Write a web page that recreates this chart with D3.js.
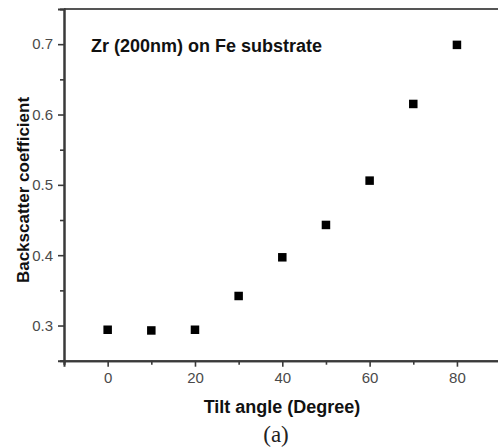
<!DOCTYPE html>
<html>
<head>
<meta charset="utf-8">
<script src="https://cdn.jsdelivr.net/npm/d3@7/dist/d3.min.js"></script>
<style>
  html, body { margin: 0; padding: 0; background: #fff; }
  svg { display: block; }
</style>
</head>
<body>
<svg id="chart" width="498" height="448"></svg>
<script>
// Backscatter coefficient versus tilt angle for Zr (200 nm) on Fe
const tiltAngles = [0, 10, 20, 30, 40, 50, 60, 70, 80];
const backscatter = [0.294, 0.293, 0.294, 0.342, 0.397, 0.443, 0.506, 0.615, 0.699];
const xMajorTicks = [0, 20, 40, 60, 80];
const xMinorTicks = [-10, 10, 30, 50, 70, 90];
const yMajorTicks = [0.3, 0.4, 0.5, 0.6, 0.7];
const yMinorTicks = [0.25, 0.35, 0.45, 0.55, 0.65];

const svg = d3.select("#chart");
const W = 498, H = 448;

// right-hand frame edge sits just beyond the page
const x = d3.scaleLinear().domain([-10, 90]).range([64, 500.6]);
const y = d3.scaleLinear().domain([0.25, 0.75]).range([360.7, 9]);

const axisColor = "#3a3a3a";
const labelColor = "#4a4a4a";
const fontFamily = "'Liberation Sans', Arial, sans-serif";

// top frame line
svg.append("line")
  .attr("x1", x(-10)).attr("x2", W + 5)
  .attr("y1", y(0.75)).attr("y2", y(0.75))
  .attr("stroke", "#555").attr("stroke-width", 2);

// bottom axis
const xAxis = svg.append("g").attr("transform", `translate(0,${y(0.25)})`);
xAxis.call(d3.axisBottom(x).tickValues(xMajorTicks).tickSize(6).tickPadding(6).tickFormat(d3.format("d")));
xAxis.append("g").call(d3.axisBottom(x).tickValues(xMinorTicks).tickSize(4).tickFormat(""));
xAxis.selectAll("g.tick line").attr("stroke", axisColor).attr("stroke-width", 1.6);
xAxis.selectAll(".domain").attr("stroke", axisColor).attr("stroke-width", 2);
xAxis.selectAll("text")
  .attr("fill", labelColor).attr("font-size", 15).attr("font-family", fontFamily);

// left axis
const yAxis = svg.append("g").attr("transform", `translate(${x(-10)},0)`);
yAxis.call(d3.axisLeft(y).tickValues(yMajorTicks).tickSize(6).tickPadding(5).tickFormat(d3.format(".1f")));
yAxis.append("g").call(d3.axisLeft(y).tickValues(yMinorTicks).tickSize(4).tickFormat(""));
yAxis.selectAll("g.tick line").attr("stroke", axisColor).attr("stroke-width", 1.6);
yAxis.selectAll(".domain").attr("stroke", axisColor).attr("stroke-width", 2);
yAxis.selectAll("text")
  .attr("fill", labelColor).attr("font-size", 15).attr("font-family", fontFamily);

// data markers: filled squares
const msize = 8.5;
svg.append("g").selectAll("rect")
  .data(tiltAngles.map((t, i) => ({ t, v: backscatter[i] })))
  .join("rect")
  .attr("x", d => x(d.t) - msize / 2)
  .attr("y", d => y(d.v) - msize / 2)
  .attr("width", msize).attr("height", msize)
  .attr("fill", "#000");

// annotation inside the plot
svg.append("text")
  .attr("x", 91).attr("y", 52)
  .attr("font-family", fontFamily).attr("font-weight", "bold").attr("font-size", 18)
  .attr("fill", "#111")
  .text("Zr (200nm) on Fe substrate");

// axis titles
svg.append("text")
  .attr("x", 282).attr("y", 413)
  .attr("text-anchor", "middle")
  .attr("font-family", fontFamily).attr("font-weight", "bold").attr("font-size", 18)
  .attr("fill", "#111")
  .text("Tilt angle (Degree)");

svg.append("text")
  .attr("transform", `translate(29,190) rotate(-90)`)
  .attr("text-anchor", "middle")
  .attr("font-family", fontFamily).attr("font-weight", "bold").attr("font-size", 17)
  .attr("fill", "#111")
  .text("Backscatter coefficient");

// panel caption
svg.append("text")
  .attr("x", 276).attr("y", 442)
  .attr("text-anchor", "middle")
  .attr("font-family", "'Liberation Serif', 'Times New Roman', serif").attr("font-size", 23)
  .attr("fill", "#222")
  .text("(a)");
</script>
</body>
</html>
